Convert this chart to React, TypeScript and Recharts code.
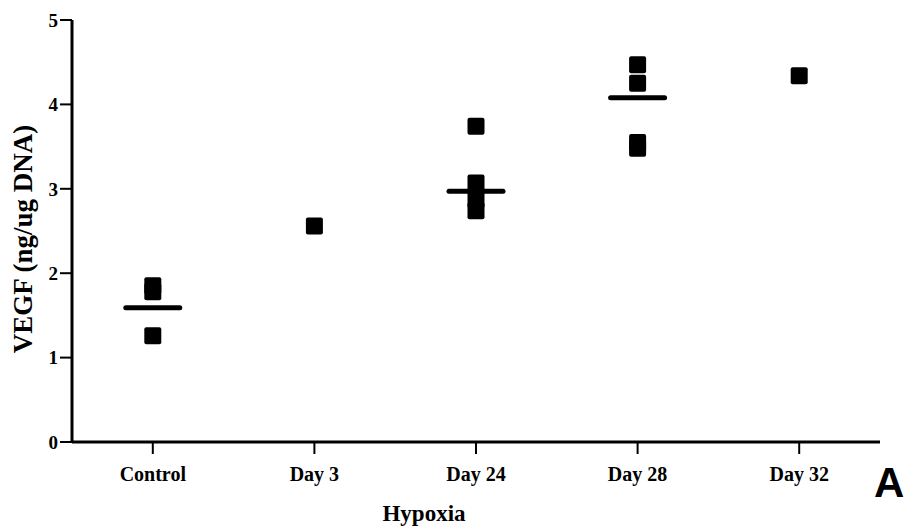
import { ComposedChart, Scatter, XAxis, YAxis } from "recharts"

const categories = ["Control", "Day 3", "Day 24", "Day 28", "Day 32"]
const controlValues = [1.85, 1.78, 1.26]
const day3Values = [2.56]
const day24Values = [3.74, 3.07, 2.87, 2.74]
const day28Values = [4.47, 4.25, 3.55, 3.48]
const day32Values = [4.34]
const meanValues = [1.59, null, 2.97, 4.08, null]
const yTicks = [0, 1, 2, 3, 4, 5]

const groups = [controlValues, day3Values, day24Values, day28Values, day32Values]
const points = groups.flatMap((vals, i) => vals.map((v) => ({ x: i, y: v })))
const means = meanValues
  .map((v, i) => (v == null ? null : { x: i, y: v }))
  .filter((d) => d != null)

const font = "'Liberation Serif', 'Times New Roman', serif"

const Square = (props: any) => {
  const { cx, cy } = props
  if (cx == null || cy == null) return null
  return <rect x={cx - 8.5} y={cy - 8.5} width={17} height={17} rx={2} fill="#000" />
}

const MeanBar = (props: any) => {
  const { cx, cy } = props
  if (cx == null || cy == null) return null
  return <line x1={cx - 27} x2={cx + 27} y1={cy} y2={cy} stroke="#000" strokeWidth={5} strokeLinecap="round" />
}

export default function App() {
  return (
    <div style={{ position: "absolute", left: 0, top: 0, width: 908, height: 526, background: "#fff" }}>
      <ComposedChart width={908} height={526} margin={{ top: 20, right: 28, left: 0, bottom: 0 }}>
        <XAxis
          type="number"
          dataKey="x"
          domain={[-0.5, 4.5]}
          ticks={[0, 1, 2, 3, 4]}
          tickFormatter={(i) => categories[i]}
          height={84}
          axisLine={{ stroke: "#000", strokeWidth: 3 }}
          tickLine={{ stroke: "#000", strokeWidth: 2 }}
          tickSize={12}
          tick={{ fill: "#000", fontSize: 20, fontWeight: 700, fontFamily: font, dy: 11 }}
          label={{ value: "Hypoxia", position: "insideBottom", dx: -52, offset: 5, fill: "#000", fontSize: 23, fontWeight: 700, fontFamily: font }}
        />
        <YAxis
          type="number"
          dataKey="y"
          domain={[0, 5]}
          ticks={yTicks}
          width={72}
          axisLine={{ stroke: "#000", strokeWidth: 3 }}
          tickLine={{ stroke: "#000", strokeWidth: 2 }}
          tickSize={12}
          tick={{ fill: "#000", fontSize: 19, fontWeight: 700, fontFamily: font }}
          label={{ value: "VEGF (ng/ug DNA)", angle: -90, position: "insideLeft", dx: 17, dy: 8, fill: "#000", fontSize: 27, fontWeight: 700, fontFamily: font, style: { textAnchor: "middle" } }}
        />
        <Scatter data={points} shape={Square} isAnimationActive={false} />
        <Scatter data={means} shape={MeanBar} isAnimationActive={false} />
      </ComposedChart>
      <div style={{ position: "absolute", left: 874, top: 462, lineHeight: 1, fontFamily: "'Liberation Sans', Arial, sans-serif", fontWeight: 700, fontSize: 42, color: "#000" }}>
        A
      </div>
    </div>
  )
}
